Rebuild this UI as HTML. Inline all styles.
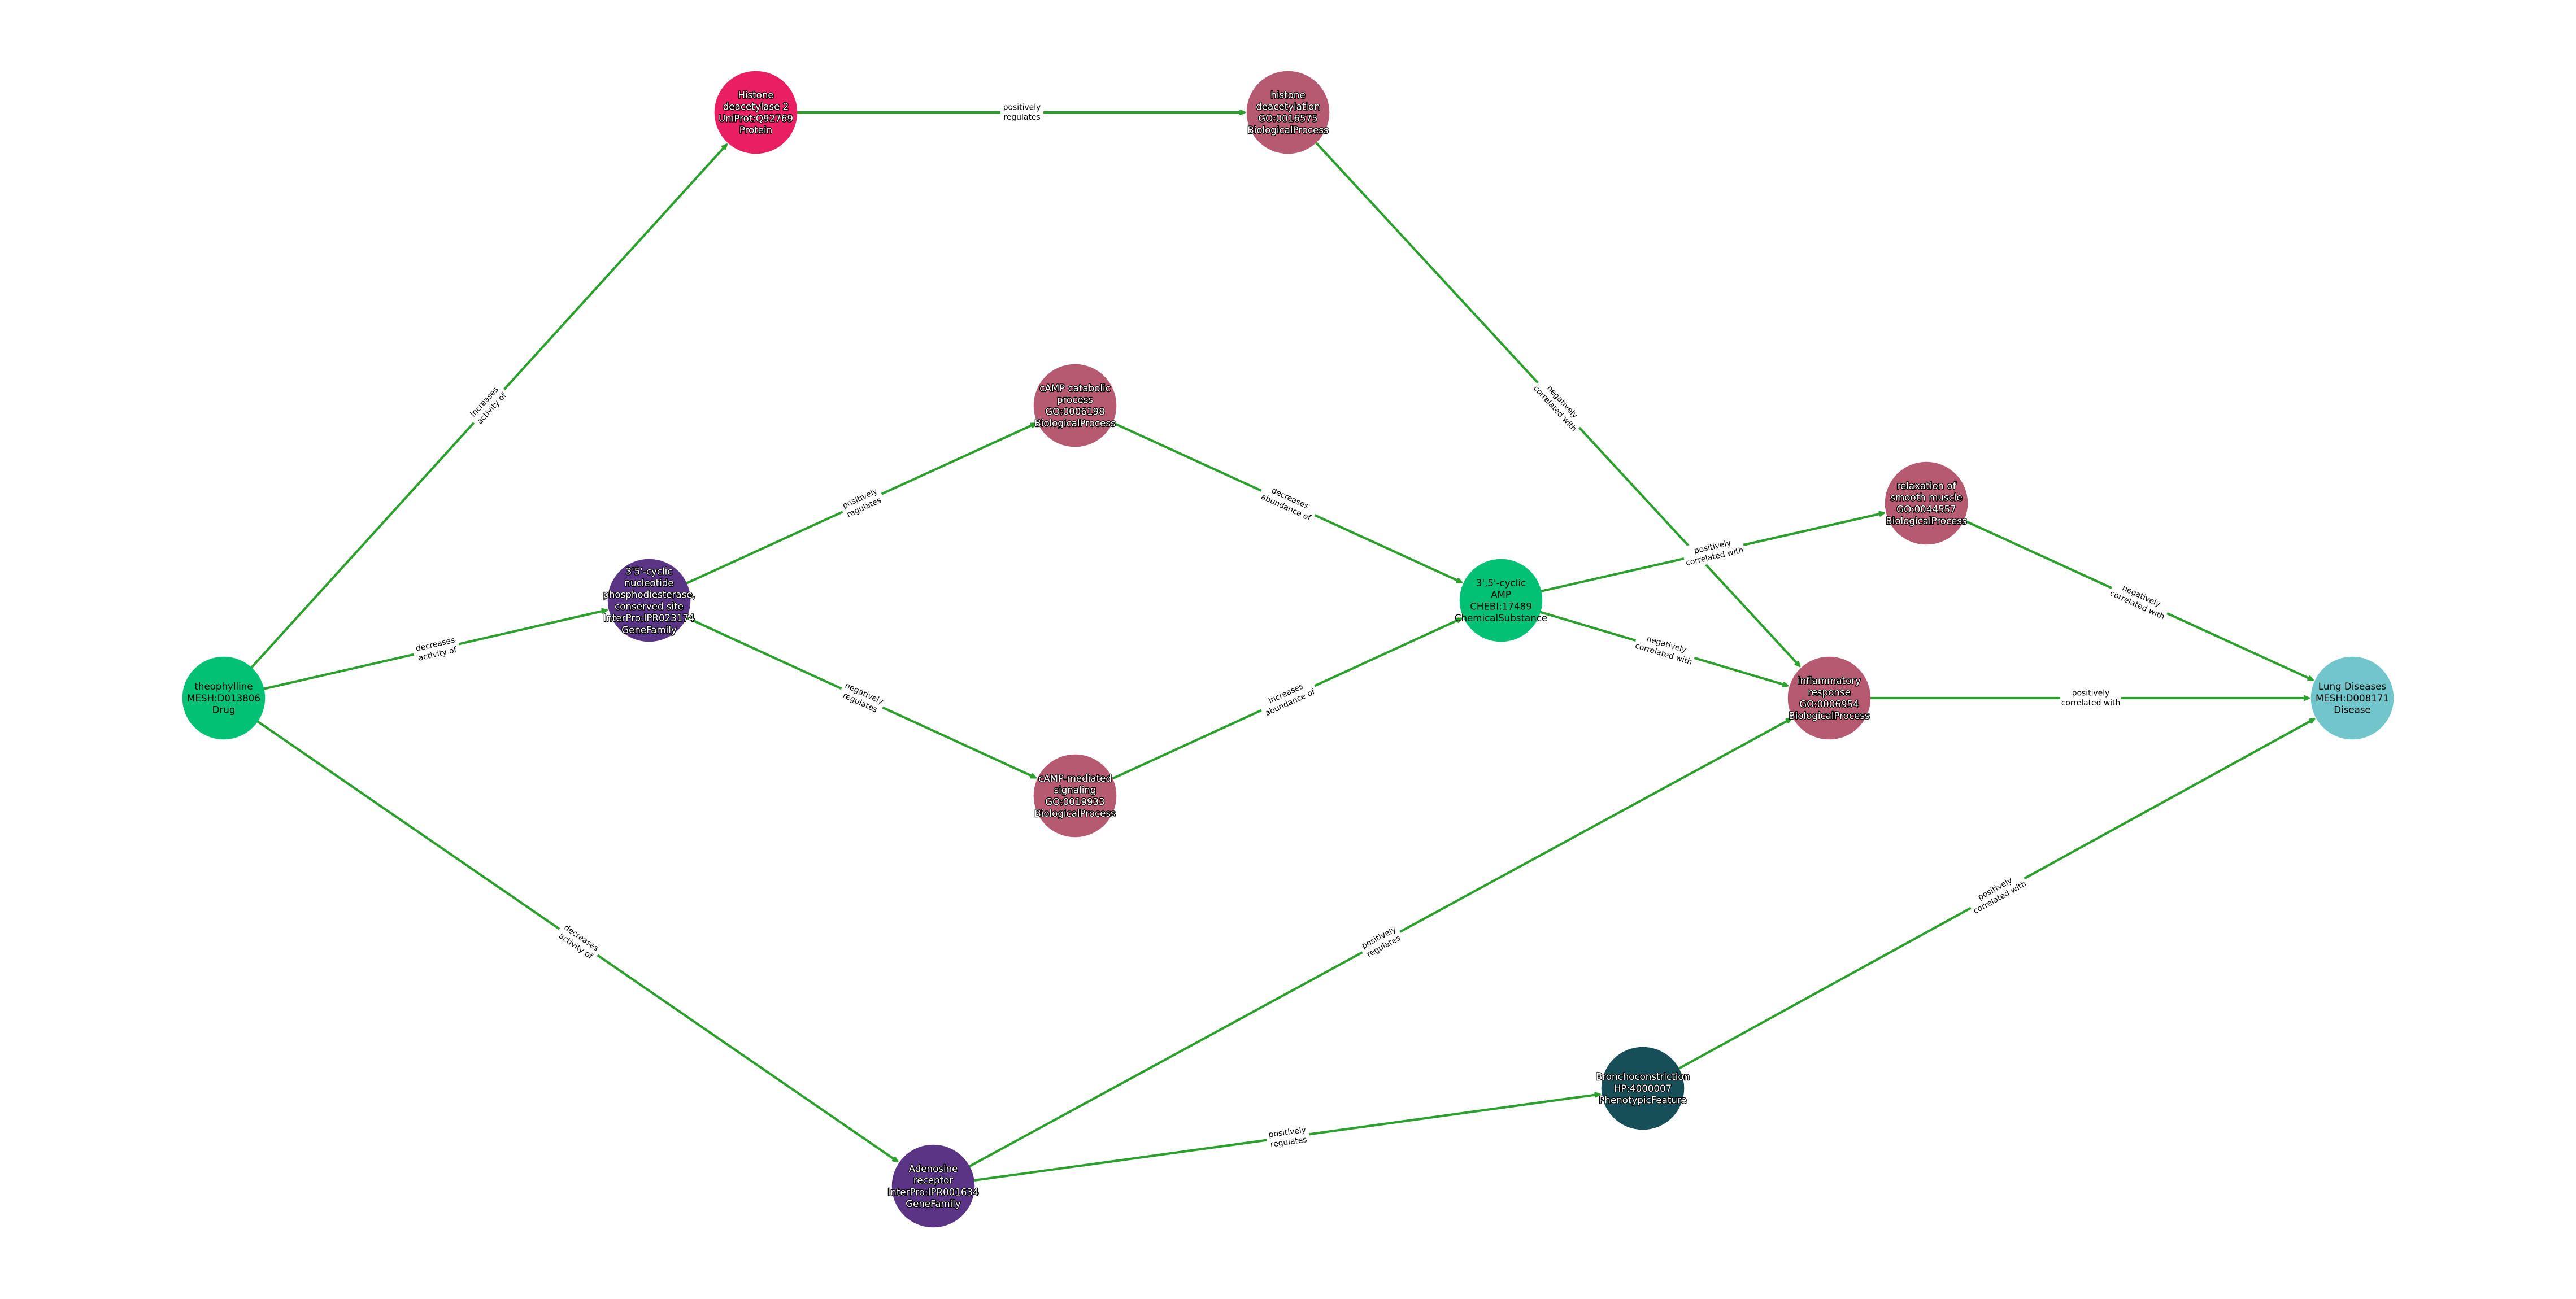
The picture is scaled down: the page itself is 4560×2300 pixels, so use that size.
<!DOCTYPE html>
<html><head><meta charset="utf-8"><title>Theophylline pathway diagram</title>
<style>
html,body{margin:0;padding:0;background:#fff;width:4560px;height:2300px;overflow:hidden}
svg{display:block}
text{font-family:"DejaVu Sans","Liberation Sans",sans-serif;text-anchor:middle}
.e path.l{fill:none;stroke:#2ca02c;stroke-width:4.2}
.e path.h{fill:#2ca02c;stroke:#2ca02c;stroke-width:3;stroke-linejoin:round}
.lb rect{fill:#fff}
.lb text{font-size:13.9px;fill:#000}
.n text{font-size:16.67px}
.w text{fill:#fff;stroke:#000;stroke-width:2.5px;paint-order:stroke;stroke-linejoin:round}
.k text{fill:#000}
</style></head><body>
<svg xmlns="http://www.w3.org/2000/svg" width="4560" height="2300" viewBox="0 0 4560 2300">
<rect width="4560" height="2300" fill="#fff"/>
<g class="e">
<g transform="translate(1287.6 254.5) rotate(-47.75)"><path class="l" d="M-1326 0H-6"/><path class="h" d="M-9.5 -3.5L-1.5 0L-9.5 3.5Z"/></g>
<g transform="translate(1075.9 1079.8) rotate(-12.94)"><path class="l" d="M-698 0H-6"/><path class="h" d="M-9.5 -3.5L-1.5 0L-9.5 3.5Z"/></g>
<g transform="translate(1590.2 2057.5) rotate(34.52)"><path class="l" d="M-1450 0H-6"/><path class="h" d="M-9.5 -3.5L-1.5 0L-9.5 3.5Z"/></g>
<g transform="translate(2205 199)"><path class="l" d="M-867 0H-6"/><path class="h" d="M-9.5 -3.5L-1.5 0L-9.5 3.5Z"/></g>
<g transform="translate(3187.1 1180.9) rotate(47.27)"><path class="l" d="M-1337 0H-6"/><path class="h" d="M-9.5 -3.5L-1.5 0L-9.5 3.5Z"/></g>
<g transform="translate(1834.8 749.2) rotate(-24.59)"><path class="l" d="M-754 0H-6"/><path class="h" d="M-9.5 -3.5L-1.5 0L-9.5 3.5Z"/></g>
<g transform="translate(1834.8 1377.7) rotate(24.65)"><path class="l" d="M-755 0H-6"/><path class="h" d="M-9.5 -3.5L-1.5 0L-9.5 3.5Z"/></g>
<g transform="translate(2588.8 1031.8) rotate(24.59)"><path class="l" d="M-754 0H-6"/><path class="h" d="M-9.5 -3.5L-1.5 0L-9.5 3.5Z"/></g>
<g transform="translate(2588.8 1094.3) rotate(-24.65)"><path class="l" d="M-755 0H-6"/><path class="h" d="M-9.5 -3.5L-1.5 0L-9.5 3.5Z"/></g>
<g transform="translate(3336.9 907.7) rotate(-12.87)"><path class="l" d="M-697 0H-6"/><path class="h" d="M-9.5 -3.5L-1.5 0L-9.5 3.5Z"/></g>
<g transform="translate(3166.1 1214.6) rotate(16.58)"><path class="l" d="M-531 0H-6"/><path class="h" d="M-9.5 -3.5L-1.5 0L-9.5 3.5Z"/></g>
<g transform="translate(4095.8 1204.8) rotate(24.59)"><path class="l" d="M-754 0H-6"/><path class="h" d="M-9.5 -3.5L-1.5 0L-9.5 3.5Z"/></g>
<g transform="translate(4089 1236)"><path class="l" d="M-851 0H-6"/><path class="h" d="M-9.5 -3.5L-1.5 0L-9.5 3.5Z"/></g>
<g transform="translate(3172.1 1271.9) rotate(-28.58)"><path class="l" d="M-1731 0H-6"/><path class="h" d="M-9.5 -3.5L-1.5 0L-9.5 3.5Z"/></g>
<g transform="translate(2833.7 1937.2) rotate(-7.84)"><path class="l" d="M-1193 0H-6"/><path class="h" d="M-9.5 -3.5L-1.5 0L-9.5 3.5Z"/></g>
<g transform="translate(4098.3 1272.2) rotate(-28.82)"><path class="l" d="M-1358 0H-6"/><path class="h" d="M-9.5 -3.5L-1.5 0L-9.5 3.5Z"/></g>
</g>
<g class="lb">
<g transform="translate(864 717.5) rotate(-47.75)"><rect x="-40" y="-21" width="80" height="40" rx="4"/><text y="-4.5">increases</text><text y="13">activity of</text></g>
<g transform="translate(772.5 1149.5) rotate(-12.94)"><rect x="-41" y="-21" width="82" height="40" rx="4"/><text y="-4.5">decreases</text><text y="13">activity of</text></g>
<g transform="translate(1024 1668) rotate(34.52)"><rect x="-41" y="-21" width="82" height="40" rx="4"/><text y="-4.5">decreases</text><text y="13">activity of</text></g>
<g transform="translate(1809 199)"><rect x="-38" y="-21" width="76" height="40" rx="4"/><text y="-4.5">positively</text><text y="13">regulates</text></g>
<g transform="translate(2759 717.5) rotate(47.27)"><rect x="-54" y="-21" width="108" height="40" rx="4"/><text y="-4.5">negatively</text><text y="13">correlated with</text></g>
<g transform="translate(1526 890.5) rotate(-24.59)"><rect x="-38" y="-21" width="76" height="40" rx="4"/><text y="-4.5">positively</text><text y="13">regulates</text></g>
<g transform="translate(1526 1236) rotate(24.65)"><rect x="-40" y="-21" width="80" height="40" rx="4"/><text y="-4.5">negatively</text><text y="13">regulates</text></g>
<g transform="translate(2280 890.5) rotate(24.59)"><rect x="-52" y="-21" width="104" height="40" rx="4"/><text y="-4.5">decreases</text><text y="13">abundance of</text></g>
<g transform="translate(2280 1236) rotate(-24.65)"><rect x="-52" y="-21" width="104" height="40" rx="4"/><text y="-4.5">increases</text><text y="13">abundance of</text></g>
<g transform="translate(3033.5 977) rotate(-12.87)"><rect x="-54" y="-21" width="108" height="40" rx="4"/><text y="-4.5">positively</text><text y="13">correlated with</text></g>
<g transform="translate(2947.5 1149.5) rotate(16.58)"><rect x="-54" y="-21" width="108" height="40" rx="4"/><text y="-4.5">negatively</text><text y="13">correlated with</text></g>
<g transform="translate(3787 1063.5) rotate(24.59)"><rect x="-54" y="-21" width="108" height="40" rx="4"/><text y="-4.5">negatively</text><text y="13">correlated with</text></g>
<g transform="translate(3701 1236)"><rect x="-54" y="-21" width="108" height="40" rx="4"/><text y="-4.5">positively</text><text y="13">correlated with</text></g>
<g transform="translate(2445 1668) rotate(-28.58)"><rect x="-38" y="-21" width="76" height="40" rx="4"/><text y="-4.5">positively</text><text y="13">regulates</text></g>
<g transform="translate(2280 2013.5) rotate(-7.84)"><rect x="-38" y="-21" width="76" height="40" rx="4"/><text y="-4.5">positively</text><text y="13">regulates</text></g>
<g transform="translate(3536 1581.5) rotate(-28.82)"><rect x="-54" y="-21" width="108" height="40" rx="4"/><text y="-4.5">positively</text><text y="13">correlated with</text></g>
</g>
<g class="n">
<circle cx="396" cy="1236" r="73.3" fill="#03c174"/>
<circle cx="1338" cy="199" r="73.3" fill="#e91e63"/>
<circle cx="2280" cy="199" r="73.3" fill="#b55a70"/>
<circle cx="1149" cy="1063" r="73.3" fill="#5a3485"/>
<circle cx="1903" cy="718" r="73.3" fill="#b55a70"/>
<circle cx="1903" cy="1409" r="73.3" fill="#b55a70"/>
<circle cx="2657" cy="1063" r="73.3" fill="#03c174"/>
<circle cx="3410" cy="891" r="73.3" fill="#b55a70"/>
<circle cx="3238" cy="1236" r="73.3" fill="#b55a70"/>
<circle cx="4164" cy="1236" r="73.3" fill="#71c6cc"/>
<circle cx="2908" cy="1927" r="73.3" fill="#174f59"/>
<circle cx="1652" cy="2100" r="73.3" fill="#5a3485"/>
</g>
<g class="n k">
<text x="396" y="1221">theophylline</text><text x="396" y="1242">MESH:D013806</text><text x="396" y="1262.7">Drug</text>
<text x="2657" y="1038">3',5'-cyclic</text><text x="2657" y="1058.7">AMP</text><text x="2657" y="1079.4">CHEBI:17489</text><text x="2657" y="1100">ChemicalSubstance</text>
<text x="4164" y="1221">Lung Diseases</text><text x="4164" y="1242">MESH:D008171</text><text x="4164" y="1262.7">Disease</text>
</g>
<g class="n w">
<text x="1338" y="174">Histone</text><text x="1338" y="194.7">deacetylase 2</text><text x="1338" y="215.4">UniProt:Q92769</text><text x="1338" y="236">Protein</text>
<text x="2280" y="174">histone</text><text x="2280" y="194.7">deacetylation</text><text x="2280" y="215.4">GO:0016575</text><text x="2280" y="236">BiologicalProcess</text>
<text x="1149" y="1017.3">3'5'-cyclic</text><text x="1149" y="1038">nucleotide</text><text x="1149" y="1058.7">phosphodiesterase,</text><text x="1149" y="1079.4">conserved site</text><text x="1149" y="1100">InterPro:IPR023174</text><text x="1149" y="1120.8">GeneFamily</text>
<text x="1903" y="693">cAMP catabolic</text><text x="1903" y="713.7">process</text><text x="1903" y="734.4">GO:0006198</text><text x="1903" y="755">BiologicalProcess</text>
<text x="1903" y="1384">cAMP-mediated</text><text x="1903" y="1404.7">signaling</text><text x="1903" y="1425.4">GO:0019933</text><text x="1903" y="1446">BiologicalProcess</text>
<text x="3410" y="866">relaxation of</text><text x="3410" y="886.7">smooth muscle</text><text x="3410" y="907.4">GO:0044557</text><text x="3410" y="928">BiologicalProcess</text>
<text x="3238" y="1211">inflammatory</text><text x="3238" y="1231.7">response</text><text x="3238" y="1252.4">GO:0006954</text><text x="3238" y="1273">BiologicalProcess</text>
<text x="2908" y="1912">Bronchoconstriction</text><text x="2908" y="1933">HP:4000007</text><text x="2908" y="1953.7">PhenotypicFeature</text>
<text x="1652" y="2075">Adenosine</text><text x="1652" y="2095.7">receptor</text><text x="1652" y="2116.4">InterPro:IPR001634</text><text x="1652" y="2137">GeneFamily</text>
</g>
</svg>
</body></html>
